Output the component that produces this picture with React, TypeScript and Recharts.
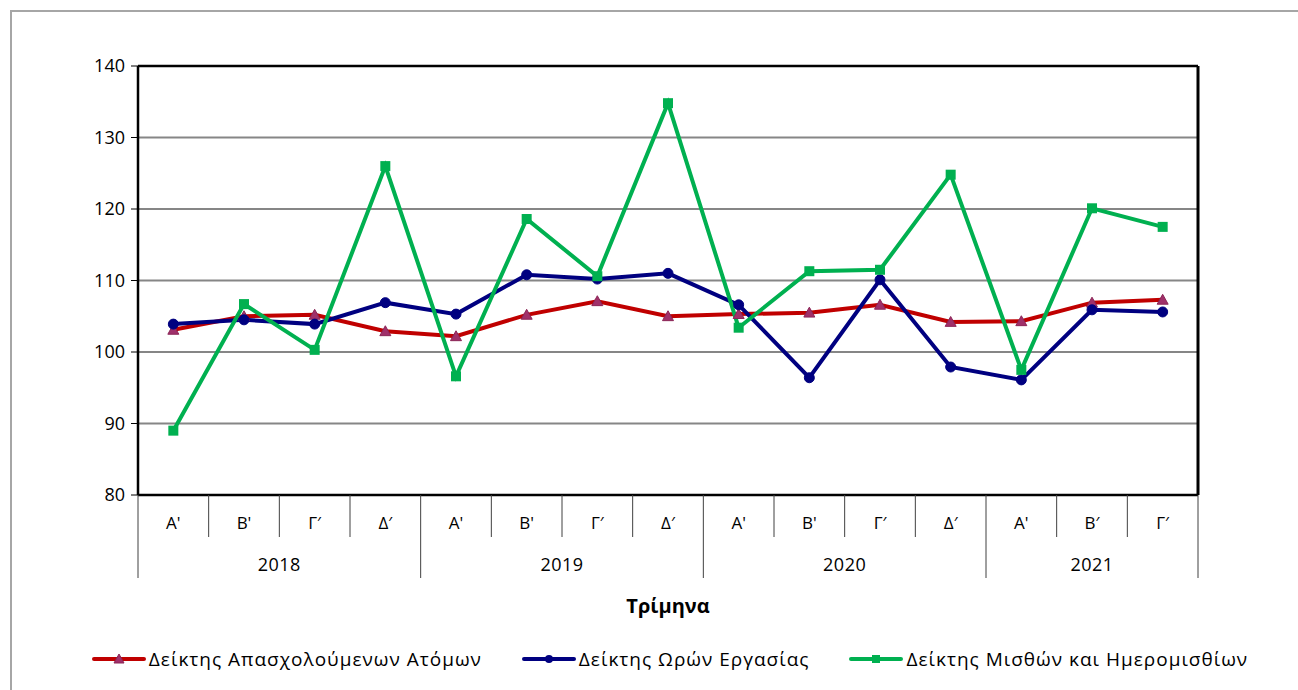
import { LineChart, Line, XAxis, YAxis, CartesianGrid, Legend } from "recharts";

// quarters along the axis, with the year each belongs to
const quarters = ["Α'", "Β'", "Γ′", "Δ′", "Α'", "Β'", "Γ′", "Δ′", "Α'", "Β'", "Γ′", "Δ′", "Α'", "Β′", "Γ′"];
const yearOf = ["2018", "2018", "2018", "2018", "2019", "2019", "2019", "2019", "2020", "2020", "2020", "2020", "2021", "2021", "2021"];

const employed = [103.1, 105.0, 105.2, 102.9, 102.2, 105.2, 107.1, 105.0, 105.3, 105.5, 106.6, 104.2, 104.3, 106.9, 107.3];
const hours = [103.9, 104.5, 103.9, 106.9, 105.3, 110.8, 110.2, 111.0, 106.6, 96.4, 110.1, 97.9, 96.1, 105.9, 105.6];
const wages = [89.0, 106.7, 100.3, 126.0, 96.6, 118.6, 110.6, 134.8, 103.4, 111.3, 111.5, 124.8, 97.5, 120.1, 117.5];

const yTicks = [80, 90, 100, 110, 120, 130, 140];

const data = quarters.map((q, i) => ({
  key: `${yearOf[i]}-${i}`,
  employed: employed[i],
  hours: hours[i],
  wages: wages[i],
}));

const FONT = "'Open Sans', 'Noto Sans', sans-serif";
const RED = "#C00000";
const BLUE = "#000080";
const GREEN = "#00B050";
const TRI = "#A0306A";
const SEP = "#404040";

function Triangle({ cx, cy, size = 5, k }: any) {
  if (cx == null || cy == null) return <g key={k} />;
  return (
    <polygon
      key={k}
      points={`${cx},${cy - size} ${cx - size},${cy + size * 0.8} ${cx + size},${cy + size * 0.8}`}
      fill={TRI}
      stroke="#8B2657"
      strokeWidth={1}
    />
  );
}

function Square({ cx, cy, size = 5, k, color = GREEN }: any) {
  if (cx == null || cy == null) return <g key={k} />;
  return <rect key={k} x={cx - size} y={cy - size} width={size * 2} height={size * 2} fill={color} />;
}

function QuarterTick(props: any) {
  const { x, y, payload, index } = props;
  const half = payload?.offset || 35.33;
  const i = index ?? payload?.index ?? 0;
  return (
    <g>
      <line x1={x - half} y1={y} x2={x - half} y2={y + 42} stroke={SEP} strokeWidth={1} />
      {i === quarters.length - 1 && (
        <line x1={x + half} y1={y} x2={x + half} y2={y + 42} stroke={SEP} strokeWidth={1} />
      )}
      <text x={x} y={y + 34} textAnchor="middle" fontSize={17} fill="#000">
        {quarters[i]}
      </text>
    </g>
  );
}

function YearTick(props: any) {
  const { x, y, payload, index } = props;
  const half = payload?.offset || 35.33;
  const i = index ?? payload?.index ?? 0;
  const yr = yearOf[i];
  const isStart = i === 0 || yearOf[i - 1] !== yr;
  const isEnd = i === yearOf.length - 1;
  const count = yearOf.filter((v) => v === yr).length;
  return (
    <g>
      {isStart && <line x1={x - half} y1={y} x2={x - half} y2={y + 41} stroke={SEP} strokeWidth={1} />}
      {isEnd && <line x1={x + half} y1={y} x2={x + half} y2={y + 41} stroke={SEP} strokeWidth={1} />}
      {isStart && (
        <text x={x - half + count * half} y={y + 34} textAnchor="middle" fontSize={18} fill="#000" letterSpacing={0.5}>
          {yr}
        </text>
      )}
    </g>
  );
}

const legendItems = [
  { key: "employed", name: "Δείκτης Απασχολούμενων Ατόμων", color: RED },
  { key: "hours", name: "Δείκτης Ωρών Εργασίας", color: BLUE },
  { key: "wages", name: "Δείκτης Μισθών και Ημερομισθίων", color: GREEN },
];

function LegendMarker({ k, color }: { k: string; color: string }) {
  return (
    <svg width={54} height={14} style={{ display: "block" }}>
      <line x1={2} y1={7} x2={52} y2={7} stroke={color} strokeWidth={4} strokeLinecap="round" />
      {k === "employed" && <Triangle cx={27} cy={7} size={5} k="lt" />}
      {k === "hours" && <circle cx={27} cy={7} r={4} fill={BLUE} />}
      {k === "wages" && <Square cx={27} cy={7} size={4} k="ls" />}
    </svg>
  );
}

function renderLegend() {
  return (
    <div
      style={{
        height: 30,
        width: 1298,
        boxSizing: "border-box",
        display: "flex",
        justifyContent: "center",
        alignItems: "center",
        whiteSpace: "nowrap",
        gap: 40,
        fontSize: 19,
        letterSpacing: 1,
        fontFamily: FONT,
        color: "#000",
        paddingLeft: 42,
      }}
    >
      {legendItems.map((it) => (
        <div key={it.key} style={{ display: "flex", alignItems: "center", gap: 3 }}>
          <LegendMarker k={it.key} color={it.color} />
          <span>{it.name}</span>
        </div>
      ))}
    </div>
  );
}

export default function App() {
  return (
    <div
      style={{
        position: "absolute",
        left: 0,
        top: 0,
        width: 1298,
        height: 690,
        background: "#fff",
        fontFamily: FONT,
        overflow: "hidden",
      }}
    >
      <div
        style={{
          position: "absolute",
          left: 10,
          top: 10,
          right: 0,
          bottom: 0,
          borderLeft: "2px solid #a6a6a6",
          borderTop: "2px solid #a6a6a6",
        }}
      />
      <LineChart
        width={1298}
        height={690}
        data={data}
        margin={{ top: 65, right: 99, left: 78, bottom: 16 }}
        style={{ position: "absolute", left: 0, top: 0 }}
      >
        <CartesianGrid vertical={false} stroke="#868686" strokeWidth={2} />
        <XAxis
          dataKey="key"
          scale="band"
          interval={0}
          height={42}
          tickSize={0}
          tickMargin={0}
          tick={<QuarterTick />}
          axisLine={{ stroke: "#000", strokeWidth: 2.5 }}
          tickLine={false}
        />
        <XAxis
          xAxisId="year"
          dataKey="key"
          scale="band"
          interval={0}
          height={107}
          tickSize={0}
          tickMargin={0}
          tick={<YearTick />}
          axisLine={false}
          tickLine={false}
          label={{
            value: "Τρίμηνα",
            position: "insideBottom",
            offset: 31,
            fontSize: 20,
            fontWeight: 700,
            fill: "#000",
          }}
        />
        <XAxis
          xAxisId="top"
          orientation="top"
          dataKey="key"
          scale="band"
          height={1}
          tick={false}
          tickLine={false}
          axisLine={{ stroke: "#000", strokeWidth: 2.5 }}
        />
        <YAxis
          domain={[80, 140]}
          ticks={yTicks}
          interval={0}
          width={60}
          tickSize={7}
          tickMargin={6}
          tick={{ fontSize: 18, fill: "#000" }}
          tickLine={{ stroke: "#000", strokeWidth: 1 }}
          axisLine={{ stroke: "#000", strokeWidth: 2.5 }}
        />
        <YAxis
          yAxisId="right"
          orientation="right"
          domain={[80, 140]}
          width={1}
          tick={false}
          tickLine={false}
          axisLine={{ stroke: "#000", strokeWidth: 3 }}
        />
        <Legend
          verticalAlign="bottom"
          align="center"
          content={renderLegend}
          wrapperStyle={{ left: 0, width: 1298 }}
        />
        <Line
          dataKey="employed"
          name="Δείκτης Απασχολούμενων Ατόμων"
          stroke={RED}
          strokeWidth={4}
          dot={(p: any) => <Triangle cx={p.cx} cy={p.cy} size={5.5} k={`t-${p.index}`} key={`t-${p.index}`} />}
          activeDot={false}
          isAnimationActive={false}
        />
        <Line
          dataKey="hours"
          name="Δείκτης Ωρών Εργασίας"
          stroke={BLUE}
          strokeWidth={4}
          dot={{ r: 5, fill: BLUE, stroke: BLUE, strokeWidth: 1 }}
          activeDot={false}
          isAnimationActive={false}
        />
        <Line
          dataKey="wages"
          name="Δείκτης Μισθών και Ημερομισθίων"
          stroke={GREEN}
          strokeWidth={4}
          dot={(p: any) => <Square cx={p.cx} cy={p.cy} size={5} k={`s-${p.index}`} key={`s-${p.index}`} />}
          activeDot={false}
          isAnimationActive={false}
        />
      </LineChart>
    </div>
  );
}
